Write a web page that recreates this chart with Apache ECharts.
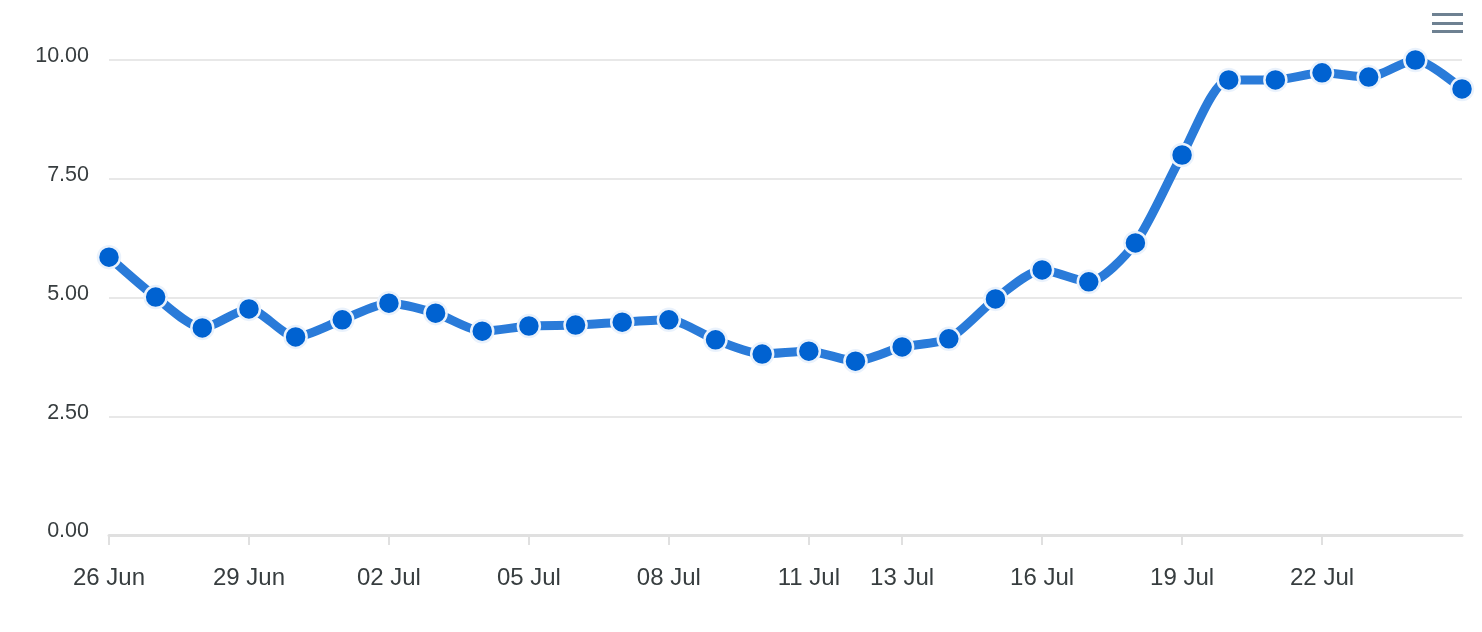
<!DOCTYPE html>
<html>
<head>
<meta charset="utf-8">
<script src="https://cdn.jsdelivr.net/npm/echarts@6/dist/echarts.min.js"></script>
<style>
html, body { margin: 0; padding: 0; background: #fff; }
#main { width: 1482px; height: 632px; }
</style>
</head>
<body>
<div id="main"></div>
<script>
// data
var days = ['26 Jun', '27 Jun', '28 Jun', '29 Jun', '30 Jun', '01 Jul', '02 Jul', '03 Jul', '04 Jul', '05 Jul',
    '06 Jul', '07 Jul', '08 Jul', '09 Jul', '10 Jul', '11 Jul', '12 Jul', '13 Jul', '14 Jul', '15 Jul',
    '16 Jul', '17 Jul', '18 Jul', '19 Jul', '20 Jul', '21 Jul', '22 Jul', '23 Jul', '24 Jul', '25 Jul'];
var values = [5.85, 5.01, 4.36, 4.76, 4.17, 4.53, 4.88, 4.67, 4.29, 4.40,
    4.42, 4.48, 4.53, 4.11, 3.81, 3.87, 3.66, 3.96, 4.13, 4.97,
    5.58, 5.33, 6.15, 8.00, 9.58, 9.58, 9.73, 9.64, 10.00, 9.39];
// days that get a tick + label
var tickLabels = ['26 Jun', '29 Jun', '02 Jul', '05 Jul', '08 Jul', '11 Jul', '13 Jul', '16 Jul', '19 Jul', '22 Jul'];
// end data

var chart = echarts.init(document.getElementById('main'));

function showTick(index, value) {
    return tickLabels.indexOf(value) >= 0;
}

var option = {
    animation: false,
    textStyle: { fontFamily: '"Liberation Sans", Arial, sans-serif' },
    grid: {
        left: 109,
        right: 20,
        top: 60,
        bottom: 97
    },
    xAxis: {
        type: 'category',
        data: days,
        boundaryGap: false,
        offset: 2,
        axisLine: {
            lineStyle: { color: '#e0e0e0', width: 3 }
        },
        axisTick: {
            interval: showTick,
            length: 10,
            lineStyle: { color: '#e0e0e0', width: 2 }
        },
        axisLabel: {
            interval: showTick,
            margin: 29,
            fontSize: 24,
            color: '#373d3f'
        },
        splitLine: { show: false }
    },
    yAxis: {
        type: 'value',
        min: 0,
        max: 10,
        interval: 2.5,
        axisLine: { show: false },
        axisTick: { show: false },
        axisLabel: {
            margin: 20,
            fontSize: 21.5,
            color: '#373d3f',
            verticalAlign: 'bottom',
            lineHeight: 7,
            formatter: function (v) { return v.toFixed(2); }
        },
        splitLine: {
            lineStyle: { color: '#e0e0e0', width: 1.5 }
        }
    },
    series: [{
        type: 'line',
        data: values,
        smooth: 0.25,
        symbol: 'circle',
        symbolSize: 22,
        lineStyle: { color: '#2a7bd9', width: 9 },
        itemStyle: {
            color: '#0062d1',
            borderColor: '#eaf2fc',
            borderWidth: 2.5
        }
    }],
    graphic: [
        { type: 'rect', shape: { x: 1432, y: 13, width: 31, height: 3 }, style: { fill: '#6e8192' } },
        { type: 'rect', shape: { x: 1432, y: 22, width: 31, height: 3 }, style: { fill: '#6e8192' } },
        { type: 'rect', shape: { x: 1432, y: 30, width: 31, height: 3 }, style: { fill: '#6e8192' } }
    ]
};

chart.setOption(option);
</script>
</body>
</html>
